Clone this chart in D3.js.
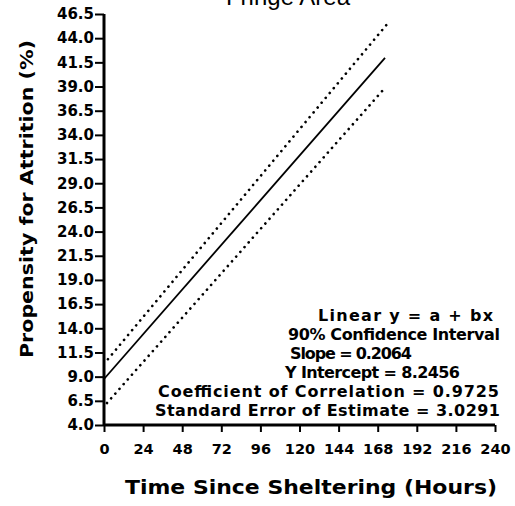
<!DOCTYPE html>
<html>
<head>
<meta charset="utf-8">
<script src="https://cdn.jsdelivr.net/npm/d3@7"></script>
<style>
  body { margin: 0; background: #fff; }
  svg { display: block; font-family: "Liberation Sans", Arial, sans-serif; }
</style>
</head>
<body>
<svg id="viz" width="515" height="506"></svg>
<script>
// chart values
var yTicks = [4.0, 6.5, 9.0, 11.5, 14.0, 16.5, 19.0, 21.5, 24.0, 26.5, 29.0, 31.5, 34.0, 36.5, 39.0, 41.5, 44.0, 46.5];
var xTicks = [0, 24, 48, 72, 96, 120, 144, 168, 192, 216, 240];
var fitLine = [{ hours: 0, pct: 8.76 }, { hours: 172.5, pct: 41.97 }];
var upperBand = [{ hours: 2.4, pct: 10.8 }, { hours: 174.3, pct: 45.56 }];
var lowerBand = [{ hours: 1.8, pct: 6.27 }, { hours: 172.5, pct: 38.87 }];
var notes = [
	"Linear y = a + bx",
	"90% Confidence Interval",
	"Slope = 0.2064",
	"Y Intercept = 8.2456",
	"Coefficient of Correlation = 0.9725",
	"Standard Error of Estimate = 3.0291"
];
// layout of the statistics block (left edge, width)
var noteStarts = [318, 288, 290, 285, 158, 155];
var noteWidths = [175, 212, 122, 175, 341, 345];

var wide = "DejaVu Sans, Verdana, sans-serif";

var svg = d3.select("#viz");

var x = d3.scaleLinear().domain([0, 240]).range([104, 495]);
var y = d3.scaleLinear().domain([4, 46.5]).range([425, 14]);

// title, mostly cut off at the top edge
svg.append("text")
	.attr("x", 288).attr("y", 5)
	.attr("text-anchor", "middle")
	.attr("font-size", 24)
	.text("Fringe Area");

// y axis
var yAxis = d3.axisLeft(y)
	.tickValues(yTicks)
	.tickFormat(d3.format(".1f"))
	.tickSize(9)
	.tickPadding(1);
var gy = svg.append("g")
	.attr("transform", "translate(" + x(0) + ",0)")
	.call(yAxis);
gy.select(".domain").attr("stroke-width", 3).attr("d", "M0," + y(46.5) + "V" + y(4));
gy.selectAll(".tick line").attr("stroke-width", 2);
gy.selectAll(".tick text")
	.attr("font-size", 15).attr("font-weight", "bold")
	.attr("font-family", wide)
	.attr("fill", "#000");

// x axis
var xAxis = d3.axisBottom(x)
	.tickValues(xTicks)
	.tickSize(7)
	.tickPadding(12);
var gx = svg.append("g")
	.attr("transform", "translate(0," + y(4) + ")")
	.call(xAxis);
gx.select(".domain").attr("stroke-width", 3).attr("d", "M" + x(0) + ",0H" + x(240));
gx.selectAll(".tick line").attr("stroke-width", 2);
gx.selectAll(".tick text")
	.attr("font-size", 14.5).attr("font-weight", "bold")
	.attr("font-family", wide)
	.attr("fill", "#000");

// axis titles
svg.append("text")
	.attr("transform", "translate(33,199) rotate(-90)")
	.attr("text-anchor", "middle")
	.attr("font-size", 18).attr("font-weight", "bold")
	.attr("font-family", wide)
	.attr("textLength", 318).attr("lengthAdjust", "spacingAndGlyphs")
	.text("Propensity for Attrition (%)");

svg.append("text")
	.attr("x", 311).attr("y", 494)
	.attr("text-anchor", "middle")
	.attr("font-size", 20).attr("font-weight", "bold")
	.attr("font-family", wide)
	.attr("textLength", 372).attr("lengthAdjust", "spacingAndGlyphs")
	.text("Time Since Sheltering (Hours)");

// regression line and confidence band
var line = d3.line()
	.x(function(d) { return x(d.hours); })
	.y(function(d) { return y(d.pct); });

svg.append("path")
	.datum(fitLine)
	.attr("d", line)
	.attr("fill", "none").attr("stroke", "#000").attr("stroke-width", 1.8);

[upperBand, lowerBand].forEach(function(band) {
	svg.append("path")
		.datum(band)
		.attr("d", line)
		.attr("fill", "none").attr("stroke", "#000").attr("stroke-width", 2.6)
		.attr("stroke-linecap", "round")
		.attr("stroke-dasharray", "0.1 6.2");
});

// statistics block
svg.selectAll(".note")
	.data(notes)
	.enter()
	.append("text")
		.attr("class", "note")
		.attr("x", function(d, i) { return noteStarts[i]; })
		.attr("y", function(d, i) { return 321 + i * 19; })
		.attr("font-size", 16).attr("font-weight", "bold")
		.attr("font-family", wide)
		.attr("textLength", function(d, i) { return noteWidths[i]; })
		.attr("lengthAdjust", "spacing")
		.text(function(d) { return d; });
</script>
</body>
</html>
